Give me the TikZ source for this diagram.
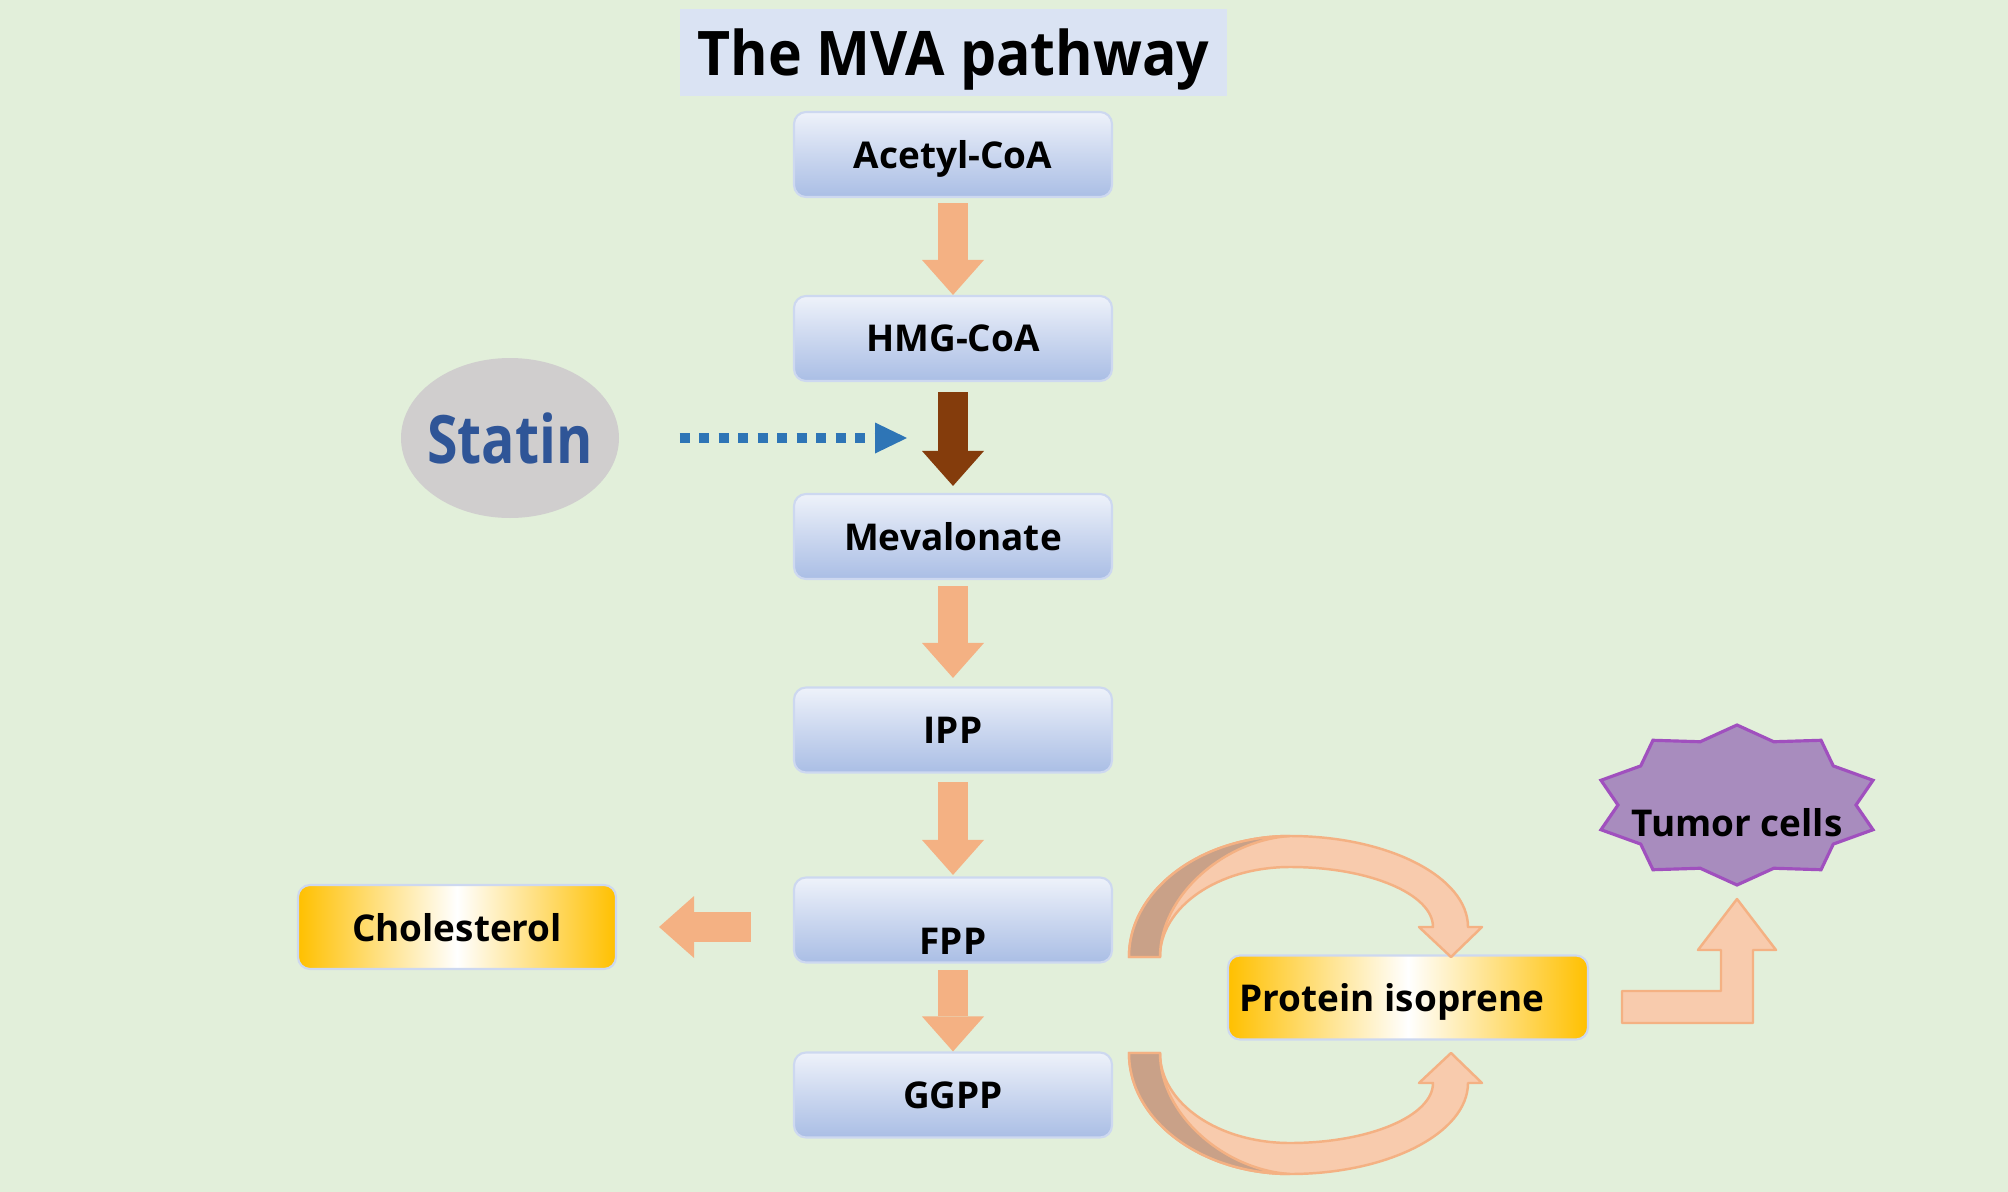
\documentclass[tikz,border=0pt]{standalone}
\usepackage{fontspec}
\setmainfont{Open Sans}
\newfontfamily\condfont{Open Sans}[FakeStretch=0.83]
\newfontfamily\headfont{Open Sans}[FakeStretch=0.93]
\usetikzlibrary{arrows.meta,shapes.geometric}

\definecolor{bggreen}{RGB}{226,239,218}
\definecolor{titleblue}{RGB}{218,227,243}
\definecolor{boxtop}{RGB}{238,242,250}
\definecolor{boxmid}{RGB}{203,215,239}
\definecolor{boxbot}{RGB}{170,190,229}
\definecolor{boxline}{RGB}{205,216,240}
\definecolor{flowor}{RGB}{244,177,131}
\definecolor{peach}{RGB}{248,203,173}
\definecolor{curvetan}{RGB}{201,161,136}
\definecolor{statbrown}{RGB}{132,60,12}
\definecolor{statblue}{RGB}{46,117,182}
\definecolor{statgray}{RGB}{208,206,206}
\definecolor{stattext}{RGB}{47,85,151}
\definecolor{isogold}{RGB}{255,192,0}
\definecolor{tumorfill}{RGB}{168,140,190}
\definecolor{tumorline}{RGB}{160,80,190}

\newcommand{\boxfont}{\fontsize{10.5}{12.6}\selectfont\bfseries}

\tikzset{
  pathbox/.style={rectangle, rounded corners=0.12cm, draw=boxline, line width=0.6pt,
    top color=boxtop, bottom color=boxbot, middle color=boxmid,
    minimum width=3.18cm, minimum height=0.85cm, inner sep=1pt, text depth=0pt, font=\boxfont},
  goldbox/.style={rectangle, rounded corners=0.12cm, draw=boxline, line width=0.6pt,
    left color=isogold, right color=isogold, middle color=white,
    minimum height=0.84cm, inner sep=1pt, text depth=0pt, font=\boxfont},
  flow/.style={draw=flowor, line width=0.30cm,
    -{Triangle[width=0.62cm,length=0.35cm,line width=0pt]}},
  statflow/.style={flow, draw=statbrown},
  inhibit/.style={draw=statblue, line width=0.10cm, dash pattern=on 0.10cm off 0.095cm,
    -{Triangle[width=0.31cm,length=0.32cm,line width=0pt]}},
  peachline/.style={fill=peach, draw=flowor, line width=0.7pt, line join=round},
  tanline/.style={fill=curvetan, draw=flowor, line width=0.7pt},
  tumorstar/.style={fill=tumorfill, draw=tumorline, line width=0.9pt}
}

\newcommand{\isoarc}{%
\filldraw[peachline] (11.29,-9.57) .. controls (11.29,-8.90) and (12.01,-8.36) .. (12.90,-8.36)
  .. controls (13.88,-8.36) and (14.68,-8.77) .. (14.68,-9.27)
  -- (14.82,-9.27) -- (14.51,-9.57) -- (14.19,-9.27) -- (14.33,-9.27)
  .. controls (14.33,-8.94) and (13.69,-8.67) .. (12.90,-8.67)
  .. controls (12.18,-8.67) and (11.60,-9.07) .. (11.60,-9.57) -- cycle;
\filldraw[tanline] (11.29,-9.57) .. controls (11.29,-8.90) and (12.01,-8.36) .. (12.90,-8.36)
  .. controls (12.25,-8.40) and (11.60,-8.95) .. (11.60,-9.57) -- cycle;
}

\begin{document}
\begin{tikzpicture}
\useasboundingbox[fill=bggreen] (0,0) rectangle (20.08,-11.92);

\node[fill=titleblue, minimum width=5.47cm, minimum height=0.87cm, text depth=0pt,
  font=\headfont\bfseries\fontsize{17.5}{21}\selectfont] (title) at (9.535,-0.525) {The MVA pathway};

\node[pathbox] (acetyl) at (9.53,-1.545) {Acetyl-CoA};
\node[pathbox] (hmg) at (9.53,-3.385) {HMG-CoA};
\node[pathbox] (meva) at (9.53,-5.365) {Mevalonate};
\node[pathbox] (ipp) at (9.53,-7.30) {IPP};
\node[pathbox, text height=0.69cm] (fpp) at (9.53,-9.20) {FPP};
\node[pathbox] (ggpp) at (9.53,-10.95) {GGPP};

\node[ellipse, fill=statgray, minimum width=2.18cm, minimum height=1.60cm, inner xsep=-0.08cm,
  inner ysep=0.1cm, text=stattext, font=\condfont\bfseries\fontsize{19}{22}\selectfont]
  (statin) at (5.10,-4.38) {Statin};
\coordinate (block) at (9.07,-4.38);

\node[goldbox, minimum width=3.18cm] (chol) at (4.57,-9.27) {Cholesterol};
\node[goldbox, minimum width=3.60cm] (protein) at (14.08,-9.975) {Protein isoprene\hspace*{0.32cm}};

\draw[flow, shorten <=0.05cm] (acetyl) -- (hmg);
\draw[statflow, shorten <=0.10cm, shorten >=0.07cm] (hmg) -- (meva);
\draw[flow, shorten <=0.06cm, shorten >=0.085cm] (meva) -- (ipp);
\draw[flow, shorten <=0.085cm, shorten >=0.015cm] (ipp) -- (fpp);
\draw[flow, shorten <=0.065cm] (fpp) -- (ggpp);
\draw[flow, shorten <=0.42cm, shorten >=0.42cm] (fpp.west |- chol.east) -- (chol.east);
\draw[inhibit, shorten <=0.60cm] (statin) -- (block);

\isoarc
\begin{scope}[yshift=-20.10cm, yscale=-1]
\isoarc
\end{scope}

\filldraw[peachline] (16.22,-9.91) -- (17.21,-9.91) -- (17.21,-9.50) -- (16.98,-9.50)
  -- (17.37,-8.99) -- (17.76,-9.50) -- (17.53,-9.50) -- (17.53,-10.23) -- (16.22,-10.23) -- cycle;

\coordinate (tumorc) at (17.37,-8.05);
\draw[tumorstar, shift={(tumorc)}] (90:1.43 and 0.80)
  \foreach \k in {0,...,9} { -- ({108+36*\k}:1.19 and 0.665) -- ({126+36*\k}:1.43 and 0.80) } -- cycle;
\node[font=\boxfont] (tumor) at (17.37,-8.23) {Tumor cells};
\end{tikzpicture}
\end{document}
